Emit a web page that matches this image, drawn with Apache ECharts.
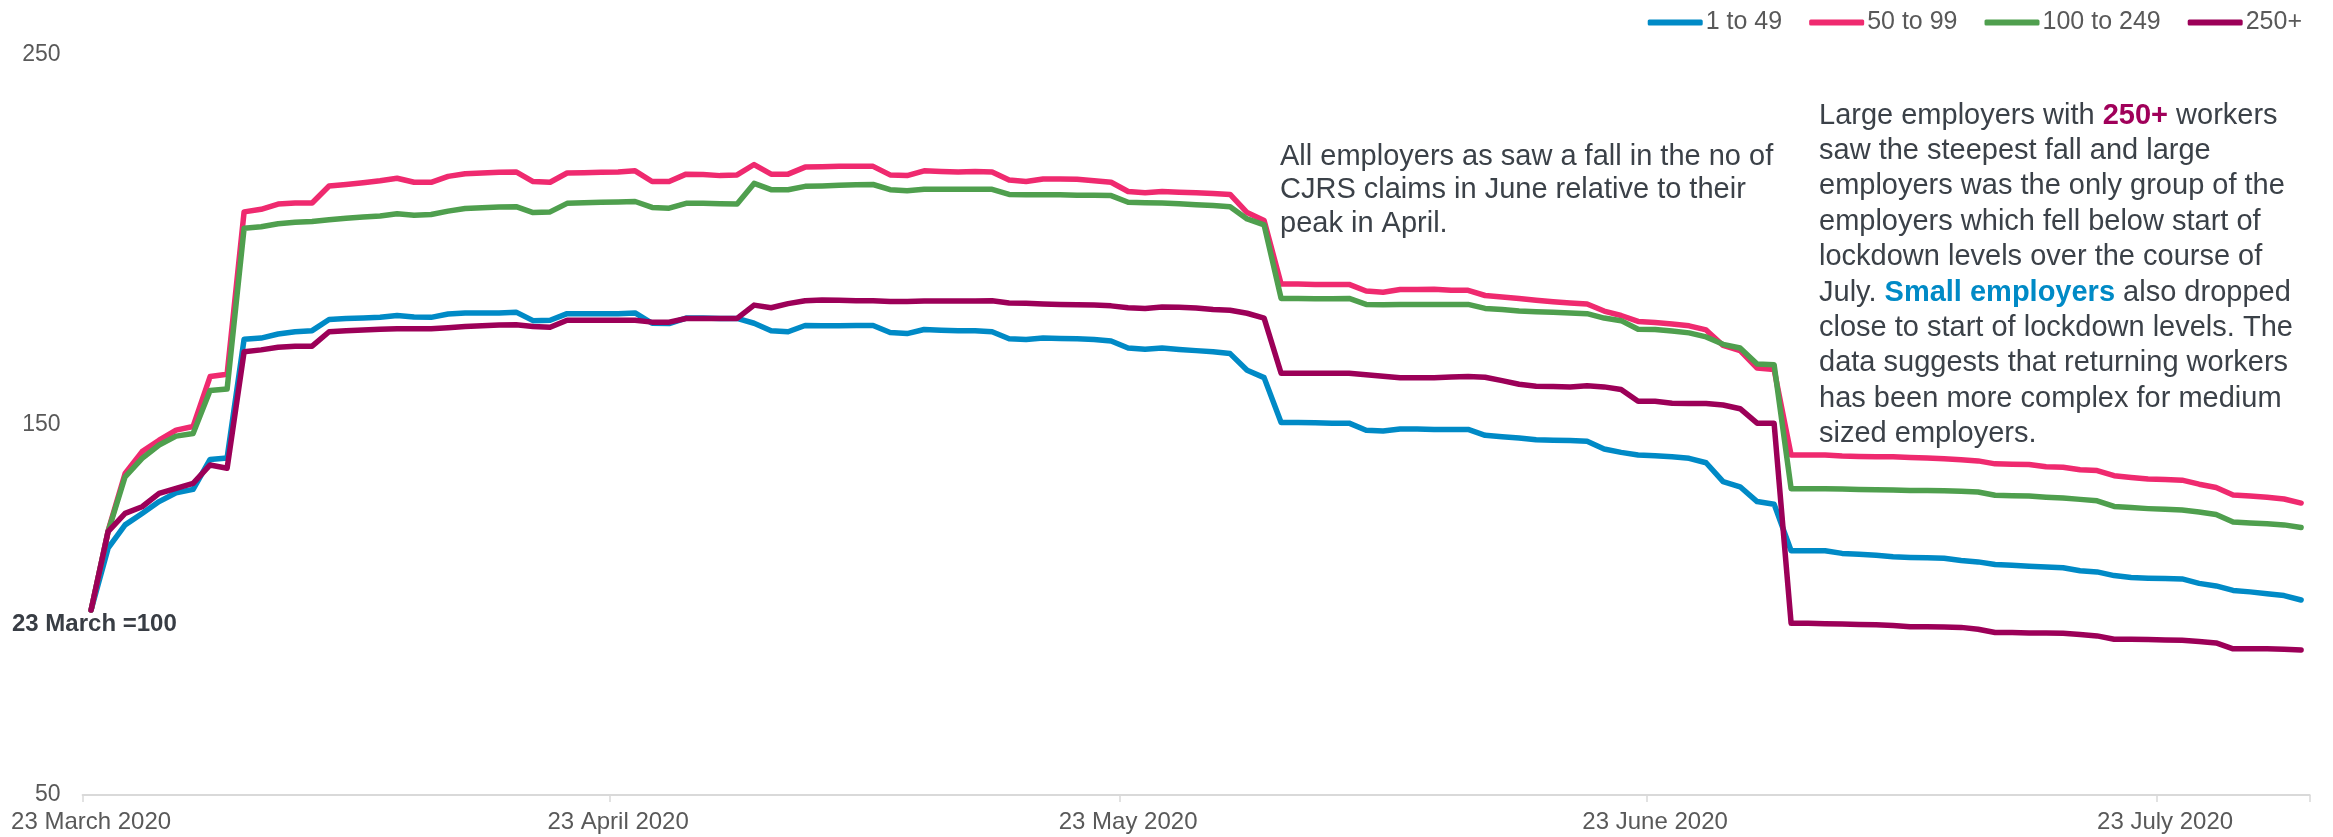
<!DOCTYPE html>
<html><head><meta charset="utf-8">
<script src="https://cdn.jsdelivr.net/npm/echarts@6/dist/echarts.min.js"></script>
<style>html,body{margin:0;padding:0;background:#fff}#c{width:2333px;height:837px}</style>
</head><body><div id="c"></div>
<script>
// ---- data ----
const seriesNames = ['1 to 49', '50 to 99', '100 to 249', '250+'];
const seriesColors = ['#008ac6', '#ef2a6f', '#4f9f4e', '#9c0058'];
const startDate = '2020-03-23';
const dayCount = 131;
const tickDays = ['2020-03-23', '2020-04-23', '2020-05-23', '2020-06-23', '2020-07-23'];
const tickLabels = ['23 March 2020', '23 April 2020', '23 May 2020', '23 June 2020', '23 July 2020'];

const small = [100,116.7,123.0,126.1,129.3,131.7,132.6,140.7,141.1,173.2,173.5,174.6,175.2,175.5,178.5,178.8,178.9,179.1,179.6,179.2,179.1,180.0,180.3,180.3,180.3,180.5,178.2,178.3,180.1,180.1,180.1,180.1,180.3,177.5,177.4,178.9,178.9,178.8,178.8,177.5,175.5,175.2,176.9,176.8,176.8,176.9,176.9,175.0,174.7,175.8,175.6,175.5,175.5,175.2,173.3,173.1,173.5,173.4,173.3,173.1,172.7,170.8,170.5,170.8,170.4,170.1,169.8,169.3,164.8,162.8,150.7,150.7,150.6,150.5,150.5,148.6,148.4,148.9,148.9,148.8,148.8,148.8,147.2,146.8,146.5,146.0,145.9,145.8,145.6,143.5,142.6,141.9,141.7,141.4,141.0,139.8,134.7,133.3,129.3,128.6,116.0,116.0,116.0,115.3,115.1,114.8,114.4,114.2,114.1,114.0,113.4,113.0,112.3,112.1,111.8,111.6,111.4,110.6,110.3,109.3,108.8,108.6,108.5,108.4,107.2,106.5,105.3,104.9,104.4,103.9,102.7];
const medium50 = [100,121.4,136.9,142.8,145.9,148.6,149.6,163.1,163.7,207.6,208.3,209.7,210.0,210.0,214.6,215.0,215.5,216.0,216.7,215.6,215.6,217.2,217.9,218.1,218.3,218.4,215.8,215.6,218.1,218.2,218.3,218.4,218.7,215.8,215.8,217.8,217.7,217.4,217.6,220.4,217.8,217.8,219.7,219.8,219.9,219.9,219.9,217.6,217.4,218.7,218.5,218.4,218.5,218.4,216.2,215.8,216.5,216.5,216.4,216.0,215.6,213.1,212.8,213.1,212.9,212.8,212.6,212.3,207.4,205.3,188.1,188.1,188.0,188.0,188.0,186.2,185.9,186.6,186.6,186.7,186.4,186.4,185.0,184.6,184.2,183.7,183.3,183.0,182.7,180.8,179.6,178.0,177.7,177.3,176.8,175.7,171.5,170.1,165.4,165.0,141.9,141.9,141.9,141.6,141.5,141.4,141.4,141.2,141.1,140.9,140.6,140.3,139.5,139.4,139.3,138.7,138.6,137.9,137.7,136.3,135.8,135.4,135.3,135.1,134.0,133.1,131.1,130.8,130.5,130.0,128.9];
const medium100 = [100,121.2,136.0,141.0,144.6,147.0,147.7,159.3,159.7,203.2,203.6,204.4,204.8,205.0,205.5,205.9,206.2,206.5,207.1,206.7,206.9,207.8,208.5,208.7,208.9,209.0,207.4,207.6,209.9,210.1,210.2,210.3,210.4,208.8,208.6,209.9,209.9,209.8,209.7,215.3,213.6,213.6,214.5,214.6,214.8,214.9,215.0,213.6,213.3,213.7,213.7,213.7,213.7,213.7,212.3,212.2,212.2,212.2,212.1,212.1,212.0,210.2,210.1,210.0,209.8,209.5,209.3,209.0,205.7,204.1,184.2,184.2,184.1,184.1,184.2,182.6,182.5,182.6,182.6,182.6,182.6,182.6,181.5,181.2,180.8,180.6,180.5,180.3,180.1,178.9,178.2,175.9,175.8,175.4,174.9,173.8,171.8,170.8,166.5,166.3,132.8,132.8,132.8,132.7,132.6,132.5,132.4,132.3,132.3,132.2,132.1,131.9,131.0,130.9,130.8,130.5,130.3,129.9,129.5,128.0,127.7,127.4,127.2,127.0,126.5,125.8,123.8,123.5,123.3,123.0,122.3];
const large = [100,121.2,126.1,127.9,131.5,132.9,134.2,139.2,138.3,169.8,170.3,171.0,171.3,171.3,175.2,175.5,175.7,175.9,176.0,176.0,176.0,176.3,176.6,176.8,177.0,177.1,176.6,176.4,178.3,178.3,178.3,178.3,178.3,177.8,177.8,178.8,178.8,178.8,178.8,182.4,181.7,182.8,183.6,183.8,183.7,183.6,183.6,183.4,183.4,183.5,183.5,183.5,183.5,183.6,183.0,182.9,182.7,182.6,182.5,182.4,182.2,181.7,181.5,181.9,181.8,181.6,181.2,181.0,180.2,178.9,164.0,164.0,164.0,164.0,164.0,163.6,163.2,162.8,162.8,162.8,163.0,163.1,162.9,162.0,161.0,160.5,160.4,160.3,160.6,160.3,159.6,156.4,156.4,155.9,155.8,155.8,155.4,154.4,150.5,150.5,96.4,96.4,96.3,96.2,96.1,96.0,95.8,95.5,95.5,95.4,95.3,94.8,93.9,93.9,93.8,93.8,93.7,93.4,93.0,92.1,92.1,92.0,91.9,91.8,91.5,91.1,89.5,89.5,89.5,89.4,89.2];

// categories: one per day from startDate
const categories = [];
(function () {
  const p = startDate.split('-').map(Number);
  for (let i = 0; i < dayCount; i++) {
    const d = new Date(Date.UTC(p[0], p[1] - 1, p[2] + i));
    categories.push(d.toISOString().slice(0, 10));
  }
})();

const FONT = "'Liberation Sans', Arial, sans-serif";
const TXT = '#3b4148';

const chart = echarts.init(document.getElementById('c'), null, { renderer: 'canvas' });

function annot(x, y, text) {
  return {
    type: 'text', silent: true,
    style: {
      x: x, y: y, text: text, fill: TXT,
      fontSize: 29, fontFamily: FONT, align: 'left', verticalAlign: 'middle',
      rich: {
        p: { fill: '#a0005a', fontWeight: 'bold', fontSize: 29, fontFamily: FONT },
        b: { fill: '#008ac6', fontWeight: 'bold', fontSize: 29, fontFamily: FONT }
      }
    }
  };
}

const note1 = ['All employers as saw a fall in the no of', 'CJRS claims in June relative to their', 'peak in April.'];
const note2 = ['Large employers with {p|250+} workers', 'saw the steepest fall and large', 'employers was the only group of the',
  'employers which fell below start of', 'lockdown levels over the course of', 'July. {b|Small employers} also dropped',
  'close to start of lockdown levels. The', 'data suggests that returning workers', 'has been more complex for medium', 'sized employers.'];

const graphics = [];
note1.forEach((t, i) => graphics.push(annot(1280, 156.5 + i * 33.5, t)));
note2.forEach((t, i) => graphics.push(annot(1819, 115.5 + i * 35.4, t)));
graphics.push({
  type: 'text', silent: true,
  style: { x: 12, y: 624, text: '23 March =100', fill: '#383d44', fontSize: 24, fontWeight: 'bold',
    fontFamily: FONT, align: 'left', verticalAlign: 'middle' }
});

const dataSets = [small, medium50, medium100, large];

chart.setOption({
  animation: false,
  backgroundColor: '#ffffff',
  textStyle: { fontFamily: FONT },
  legend: {
    right: 26, top: 5, itemWidth: 55, itemHeight: 6, itemGap: 27, icon: 'roundRect',
    data: seriesNames,
    textStyle: { fontSize: 25, color: '#595959', fontFamily: FONT, padding: [0, 0, 0, -2] }
  },
  grid: { left: 82.6, width: 2227, top: 55, height: 740, containLabel: false },
  xAxis: {
    type: 'category', data: categories, boundaryGap: true,
    axisLine: { show: true, lineStyle: { color: '#d9d9d9', width: 2 } },
    axisTick: { show: true, length: 7, lineStyle: { color: '#d9d9d9', width: 1.5 },
      interval: (idx, val) => tickDays.indexOf(val) >= 0 },
    axisLabel: {
      show: true, margin: 15, fontSize: 24, color: '#595959', fontFamily: FONT,
      interval: (idx, val) => tickDays.indexOf(val) >= 0,
      formatter: (val) => { const k = tickDays.indexOf(val); return k >= 0 ? tickLabels[k] : ''; }
    },
    splitLine: { show: false }
  },
  yAxis: {
    type: 'value', min: 50, max: 250, interval: 100,
    axisLine: { show: false }, axisTick: { show: false }, splitLine: { show: false },
    axisLabel: { fontSize: 23, color: '#595959', margin: 22, fontFamily: FONT }
  },
  series: seriesNames.map((n, i) => ({
    name: n, type: 'line', data: dataSets[i], color: seriesColors[i],
    symbol: 'none', showSymbol: false, smooth: false,
    lineStyle: { width: 5.5, color: seriesColors[i], cap: 'round', join: 'round' },
    emphasis: { disabled: true }
  })),
  graphic: graphics
});
</script>
</body></html>
